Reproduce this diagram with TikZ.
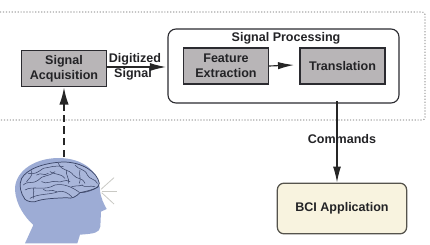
\documentclass[tikz,border=0pt]{standalone}
\usepackage{fontspec}
\setmainfont{Liberation Sans}
\usetikzlibrary{arrows.meta}
\definecolor{boxgray}{HTML}{B8B5B7}
\definecolor{boxedge}{HTML}{2B2B30}
\definecolor{appfill}{HTML}{F8F3DF}
\definecolor{appedge}{HTML}{55534C}
\definecolor{headblue}{HTML}{9DACD5}
\definecolor{brainblue}{HTML}{A9B6DA}
\definecolor{foldline}{HTML}{3C4668}
\definecolor{raygray}{HTML}{C9C9C4}
\definecolor{dotgray}{HTML}{A8A8A8}
\definecolor{inktext}{HTML}{232326}
\tikzset{
  x=0.75pt, y=-0.75pt,
  label text/.style={font=\bfseries\fontsize{9.4}{11.2}\selectfont, text=inktext, align=center, inner sep=0pt},
  stage/.style={draw=boxedge, line width=1.05pt, fill=boxgray, minimum width=63.5pt, minimum height=27pt, inner sep=0pt, label text},
  group/.style={draw=boxedge, line width=0.85pt, rounded corners=6pt, fill=white},
  app/.style={draw=appedge, line width=0.95pt, rounded corners=5pt, fill=appfill, minimum width=97pt, minimum height=38pt, inner sep=0pt, label text},
  link/.style={draw=black!85, line width=0.85pt, -{Latex[length=12pt,width=6pt]}},
  linkshort/.style={draw=black!85, line width=0.85pt, -{Latex[length=12pt,width=5.5pt]}},
  brainfold/.style={draw=foldline, line width=0.4pt, line cap=round, line join=round},
  ray/.style={draw=raygray, line width=0.6pt}
}
\begin{document}
\begin{tikzpicture}
\useasboundingbox (0,0) rectangle (430,244);

% Dotted frame, open on the left side
\draw[dotgray, line width=0.8pt, dash pattern=on 0.9pt off 1.3pt, rounded corners=2pt]
  (0,12) -- (425,12) -- (425,120) -- (0,120);

% Stages
\node[stage] (acq) at (64,68.5) {Signal\\Acquisition};
\draw[group] (168,29) rectangle (399,103);
\coordinate (procL) at (166,67);
\coordinate (procB) at (337,101);
\node[label text] (proc) at (286,38) {Signal Processing};
\node[stage] (feat) at (226,66) {Feature\\Extraction};
\node[stage] (trans) at (342.5,66) {Translation};
\coordinate (transGap) at (294,65);
\node[app] (bci) at (342,208.5) {BCI Application};

% Head in profile
\begin{scope}[x=0.25pt, y=-0.25pt, yshift=-97.5pt]
  \fill[headblue] (75,340) -- (100,285)
    .. controls (75,262) and (48,225) .. (45,180)
    .. controls (43,130) and (95,85) .. (175,84)
    .. controls (250,84) and (298,125) .. (300,180)
    .. controls (302,205) and (312,222) .. (320,237)
    -- (303,245) -- (301,290)
    .. controls (298,308) and (285,311) .. (240,314)
    -- (232,340) -- cycle;
  \filldraw[fill=brainblue, brainfold, line width=0.55pt]
    (75,208) .. controls (62,190) and (55,165) .. (65,145)
    .. controls (80,118) and (130,98) .. (190,96)
    .. controls (245,96) and (292,125) .. (298,160)
    .. controls (298,175) and (275,180) .. (240,188)
    .. controls (228,200) and (215,208) .. (200,203)
    .. controls (165,205) and (130,205) .. (105,215)
    .. controls (95,217) and (82,214) .. (75,208) -- cycle;
  \draw[brainfold] (70,165) .. controls (85,150) and (95,165) .. (115,150) .. controls (125,135) and (150,140) .. (165,125);
  \draw[brainfold] (85,130) .. controls (105,135) and (115,125) .. (130,115) .. controls (150,112) and (165,105) .. (190,110);
  \draw[brainfold] (175,100) .. controls (185,125) and (205,115) .. (220,135) .. controls (232,150) and (245,140) .. (255,160);
  \draw[brainfold] (225,105) .. controls (235,120) and (255,115) .. (262,135) .. controls (270,150) and (285,145) .. (292,160);
  \draw[brainfold] (75,180) .. controls (100,165) and (130,185) .. (165,165) .. controls (190,160) and (215,170) .. (238,187);
  \draw[brainfold] (90,205) .. controls (115,190) and (150,195) .. (175,185) .. controls (190,180) and (205,190) .. (215,200);
  \draw[brainfold] (125,155) .. controls (140,165) and (155,150) .. (170,155) .. controls (185,160) and (195,145) .. (210,155);
  \draw[brainfold] (150,125) .. controls (165,135) and (185,130) .. (195,145);
  \draw[brainfold] (240,188) .. controls (260,188) and (280,180) .. (296,170);
  \draw[brainfold] (245,165) .. controls (255,175) and (270,165) .. (285,170);
  \draw[brainfold] (95,122) .. controls (100,140) and (85,145) .. (80,155);
  \draw[brainfold] (110,135) .. controls (125,125) and (130,140) .. (145,130);
  \draw[brainfold] (130,178) .. controls (140,190) and (155,175) .. (170,185);
  \draw[brainfold] (200,120) .. controls (195,135) and (210,145) .. (205,160);
  \draw[brainfold] (240,120) .. controls (235,135) and (245,145) .. (238,160);
  \draw[brainfold] (100,175) .. controls (105,190) and (95,195) .. (100,205);
  \draw[brainfold] (215,170) .. controls (225,165) and (235,170) .. (248,165);
  \draw[ray] (303,178) -- (342,143);
  \draw[ray] (305,183) -- (350,183);
  \draw[ray] (305,188) -- (342,222);
\end{scope}
\coordinate (scalp) at (64,157);

% Signal flow
\draw[draw=black!85, line width=1.4pt, dash pattern=on 5.5pt off 3.2pt] (scalp) -- (64,103);
\draw[black!85, line width=1.4pt, -{Latex[length=13pt,width=7pt]}] (64,106) -- (acq.south -| 64,88.5);
\draw[link] (acq.east) ++(0,-1.5) -- (procL);
\draw[linkshort] (feat.east) -- (transGap);
\draw[link] (procB) -- (bci.north -| procB);

% Connector labels
\node[label text] (digi) at (135,59) {Digitized};
\node[label text] (sig) at (133,74) {Signal};
\node[label text] (cmd) at (342,139) {Commands};
\end{tikzpicture}
\end{document}
